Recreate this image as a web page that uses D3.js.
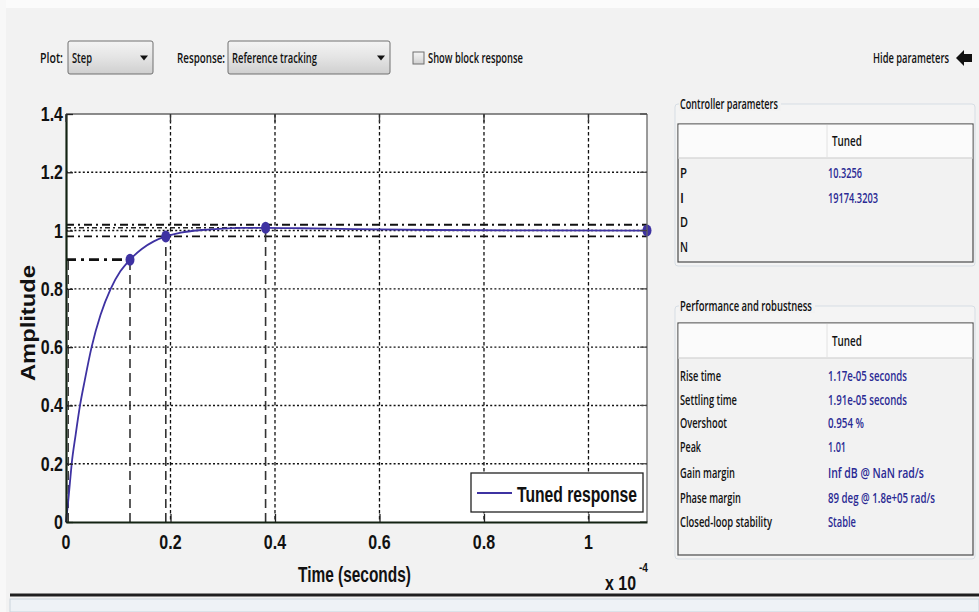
<!DOCTYPE html>
<html><head><meta charset="utf-8">
<script src="https://cdn.jsdelivr.net/npm/d3@7/dist/d3.min.js"></script>
<style>
html,body{margin:0;padding:0;background:#f2f2f2;}
svg{display:block;}
</style></head>
<body>
<svg id="c" width="979" height="612"></svg>
<script>
// ---------------- DATA ----------------
const timeE4    = [0, 0.0015, 0.0044, 0.0075, 0.0109, 0.0185, 0.0268, 0.036, 0.049, 0.066, 0.0855, 0.104, 0.1225, 0.145, 0.168, 0.191, 0.22, 0.26, 0.30, 0.34, 0.382, 0.45, 0.55, 0.70, 0.90, 1.112];
const amplitude = [0, 0.025, 0.075, 0.135, 0.2, 0.3, 0.4, 0.487, 0.6, 0.71, 0.8, 0.86, 0.9, 0.937, 0.963, 0.98, 0.993, 1.002, 1.007, 1.009, 1.0095, 1.008, 1.005, 1.002, 1.0005, 1.0];
const yTicks = [0, 0.2, 0.4, 0.6, 0.8, 1, 1.2, 1.4];
const xTicks = [0, 0.2, 0.4, 0.6, 0.8, 1];
const yGrid = [0.2, 0.4, 0.6, 0.8, 1, 1.2];
const xGrid = [0.2, 0.4, 0.6, 0.8, 1];
const riseStart = 0.0044, riseEnd = 0.1225, riseLevel = 0.9;
const settleTime = 0.191, settleValue = 0.98, settleBand = [0.98, 1.02];
const peakTime = 0.382, peakValue = 1.0095;
const finalTime = 1.112, finalValue = 1.0;
const controllerRows = [["P", "10.3256"], ["I", "19174.3203"], ["D", ""], ["N", ""]];
const perfRows = [
  ["Rise time", "1.17e-05 seconds"],
  ["Settling time", "1.91e-05 seconds"],
  ["Overshoot", "0.954 %"],
  ["Peak", "1.01"],
  ["Gain margin", "Inf dB @ NaN rad/s"],
  ["Phase margin", "89 deg @ 1.8e+05 rad/s"],
  ["Closed-loop stability", "Stable"]
];
const legendLabel = "Tuned response";

// ---------------- DRAW ----------------
const svg = d3.select("#c");
const UI = "'Open Sans','Noto Sans',sans-serif";
const AR = "'Liberation Sans',Arial,sans-serif";
const curveColor = "#3e32a2";
const valColor = "#2a2a94";

// place a text at (x,y) squeezed horizontally to width w (via transform)
function place(parent, x, y, s, w, o={}){
  const t = parent.append("text").attr("x",0).attr("y",0).text(s)
    .attr("font-family",o.ff||UI).attr("font-size",o.fs||13).attr("fill",o.fill||"#111")
    .attr("font-weight",o.fw||"normal");
  const L = t.node().getComputedTextLength();
  const f = (w && L>0) ? w/L : 1;
  const rot = o.rot ? ` rotate(${o.rot})` : "";
  const dx = o.center ? -(L*f)/2 : 0;
  if(o.rot){
    t.attr("transform",`translate(${x},${y})${rot} translate(${dx},0) scale(${f},1)`);
  } else {
    t.attr("transform",`translate(${x+dx},${y}) scale(${f},1)`);
  }
  return t;
}

// page frame
svg.append("rect").attr("x",0).attr("y",0).attr("width",979).attr("height",612).attr("fill","#f2f2f2");
svg.append("rect").attr("x",0).attr("y",0).attr("width",979).attr("height",8).attr("fill","#fbfbfb");
svg.append("rect").attr("x",0).attr("y",0).attr("width",6).attr("height",612).attr("fill","#f8f8f8");

const defs = svg.append("defs");
const g1 = defs.append("linearGradient").attr("id","dd").attr("x1",0).attr("y1",0).attr("x2",0).attr("y2",1);
g1.append("stop").attr("offset","0").attr("stop-color","#f4f4f4");
g1.append("stop").attr("offset","0.5").attr("stop-color","#e4e4e4");
g1.append("stop").attr("offset","1").attr("stop-color","#cfcfcf");

const uiOpt = {fw:600, fs:15};
function dropdown(x,y,w,h,label,lw){
  svg.append("rect").attr("x",x).attr("y",y).attr("width",w).attr("height",h).attr("rx",2)
    .attr("fill","url(#dd)").attr("stroke","#707070");
  place(svg, x+4, y+22, label, lw, uiOpt);
  const ax=x+w-9, ay=y+h/2;
  svg.append("path").attr("d",`M${ax-4},${ay-2}L${ax+4},${ay-2}L${ax},${ay+3}Z`).attr("fill","#111");
}
place(svg,40,63,"Plot:",23,uiOpt);
dropdown(68,41,85,33,"Step",20);
place(svg,177,63,"Response:",48,uiOpt);
dropdown(228,41,162,33,"Reference tracking",85);
svg.append("rect").attr("x",413).attr("y",52).attr("width",11).attr("height",12).attr("fill","url(#dd)").attr("stroke","#6f6f6f");
place(svg,428,63,"Show block response",95,uiOpt);
place(svg,873,63,"Hide parameters",76,uiOpt);
svg.append("path").attr("d","M956,58L964,50L964,54L972,54L972,62L964,62L964,66Z").attr("fill","#111");

// plot
const X0=66, X1=647, Y0=522, Y1=114;
const x = d3.scaleLinear().domain([0, finalTime]).range([X0, X1]);
const y = d3.scaleLinear().domain([0, 1.4]).range([Y0, Y1]);

svg.append("rect").attr("x",X0).attr("y",Y1).attr("width",X1-X0).attr("height",Y0-Y1).attr("fill","#fff");

// grid
svg.append("g").selectAll("line").data(yGrid).join("line")
  .attr("x1",X0).attr("x2",X1).attr("y1",d=>y(d)).attr("y2",d=>y(d))
  .attr("stroke","#111").attr("stroke-width",1.4).attr("stroke-dasharray","2,2.2");
svg.append("g").selectAll("line").data(xGrid).join("line")
  .attr("y1",Y1).attr("y2",Y0).attr("x1",d=>x(d)).attr("x2",d=>x(d))
  .attr("stroke","#111").attr("stroke-width",1.3).attr("stroke-dasharray","3.5,2.5");

// characteristic reference lines
const ref = svg.append("g").attr("fill","none");
ref.append("line").attr("x1",x(riseStart)).attr("x2",x(riseStart)).attr("y1",Y0).attr("y2",y(riseLevel))
  .attr("stroke","#333").attr("stroke-width",1.3).attr("stroke-dasharray","9,5");
ref.append("line").attr("x1",x(riseEnd)).attr("x2",x(riseEnd)).attr("y1",Y0).attr("y2",y(riseLevel))
  .attr("stroke","#333").attr("stroke-width",1.6).attr("stroke-dasharray","9,5");
ref.append("line").attr("x1",X0).attr("x2",x(riseEnd)).attr("y1",y(riseLevel)).attr("y2",y(riseLevel))
  .attr("stroke","#111").attr("stroke-width",2.8).attr("stroke-dasharray","10,5,3,5");
ref.append("line").attr("x1",x(settleTime)).attr("x2",x(settleTime)).attr("y1",Y0).attr("y2",y(settleValue))
  .attr("stroke","#333").attr("stroke-width",1.6).attr("stroke-dasharray","9,5");
ref.selectAll("line.band").data(settleBand).join("line").attr("class","band")
  .attr("x1",X0).attr("x2",X1).attr("y1",d=>y(d)).attr("y2",d=>y(d))
  .attr("stroke","#111").attr("stroke-width",1.8).attr("stroke-dasharray","8,4,2,4");
ref.append("line").attr("x1",x(peakTime)).attr("x2",x(peakTime)).attr("y1",Y0).attr("y2",y(peakValue))
  .attr("stroke","#333").attr("stroke-width",1.6).attr("stroke-dasharray","9,5");
ref.append("line").attr("x1",X0).attr("x2",x(peakTime)).attr("y1",y(peakValue)).attr("y2",y(peakValue))
  .attr("stroke","#222").attr("stroke-width",1.5).attr("stroke-dasharray","5,3,2,3");

// curve
const pts = timeE4.map((t,i)=>[t, amplitude[i]]);
svg.append("path").datum(pts)
  .attr("d", d3.line().x(d=>x(d[0])).y(d=>y(d[1])).curve(d3.curveMonotoneX))
  .attr("fill","none").attr("stroke",curveColor).attr("stroke-width",1.8);

// markers
const marks = [[riseEnd, riseLevel],[settleTime, settleValue],[peakTime, peakValue],[finalTime, finalValue]];
svg.append("g").selectAll("ellipse").data(marks).join("ellipse")
  .attr("cx",d=>x(d[0])).attr("cy",d=>y(d[1])).attr("rx",4.5).attr("ry",6).attr("fill",curveColor);

// axes frame
svg.append("line").attr("x1",X0).attr("x2",X1).attr("y1",Y1).attr("y2",Y1).attr("stroke","#666").attr("stroke-width",1.3);
svg.append("line").attr("x1",X1).attr("x2",X1).attr("y1",Y1).attr("y2",Y0).attr("stroke","#666").attr("stroke-width",1.3);

const tickOpt = {ff:AR, fs:20, fw:"bold", fill:"#111"};
const ax = svg.append("g").attr("transform",`translate(${X0},0)`)
  .call(d3.axisLeft(y).tickValues(yTicks).tickFormat(()=>"").tickSizeInner(-7).tickSizeOuter(0));
ax.select(".domain").attr("stroke","#132313").attr("stroke-width",2.2);
ax.selectAll(".tick line").attr("stroke","#222").attr("stroke-width",1.3);
ax.selectAll(".tick text").remove();
yTicks.forEach(v=>{
  const s = d3.format("~g")(v);
  const t = place(svg, 0, 0, s, null, tickOpt);
  const L = t.node().getComputedTextLength()*0.8;
  t.remove();
  place(svg, 63-L, y(v)+7, s, L, tickOpt);
});
svg.append("g").selectAll("line").data(yTicks).join("line")
  .attr("x1",X1).attr("x2",X1-7).attr("y1",d=>y(d)).attr("y2",d=>y(d)).attr("stroke","#444").attr("stroke-width",1.2);

const bx = svg.append("g").attr("transform",`translate(0,${Y0})`)
  .call(d3.axisBottom(x).tickValues(xTicks).tickFormat(()=>"").tickSizeInner(-8).tickSizeOuter(0));
bx.select(".domain").attr("stroke","#132313").attr("stroke-width",2.2);
bx.selectAll(".tick line").attr("stroke","#222").attr("stroke-width",1.3);
bx.selectAll(".tick text").remove();
xTicks.forEach(v=>{
  const s = d3.format("~g")(v);
  const t = place(svg, 0, 0, s, null, tickOpt);
  const L = t.node().getComputedTextLength()*0.8;
  t.remove();
  place(svg, x(v), 549, s, L, Object.assign({center:true}, tickOpt));
});
svg.append("g").selectAll("line").data(xTicks).join("line")
  .attr("y1",Y1).attr("y2",Y1+8).attr("x1",d=>x(d)).attr("x2",d=>x(d)).attr("stroke","#333").attr("stroke-width",1.3);

// axis labels
place(svg, 35, 323, "Amplitude", 116, {ff:AR, fs:21, fw:"bold", rot:-90, center:true});
place(svg, 298, 582, "Time (seconds)", 113, {ff:AR, fs:22, fw:"bold"});
place(svg, 605, 590, "x 10", 31, {ff:AR, fs:21, fw:"bold"});
place(svg, 639, 572, "-4", 9, {ff:AR, fs:13, fw:"bold"});

// legend
svg.append("rect").attr("x",471).attr("y",473).attr("width",172).attr("height",39).attr("fill","#fff").attr("stroke","#222").attr("stroke-width",1.3);
svg.append("line").attr("x1",477).attr("x2",512).attr("y1",493).attr("y2",493).attr("stroke",curveColor).attr("stroke-width",2.2);
place(svg, 517, 502, legendLabel, 120, {ff:AR, fs:22, fw:"bold"});

// ---------- right panels ----------
function panel(top, bottom, title, titleW, headTop, headBot, rows, rowY, labelW, valW){
  svg.append("rect").attr("x",675).attr("y",top).attr("width",300).attr("height",bottom-top).attr("rx",3)
    .attr("fill","#f4f4f4").attr("stroke","#d6dde4");
  svg.append("rect").attr("x",679).attr("y",top-9).attr("width",titleW+4).attr("height",16).attr("fill","#f2f2f2");
  place(svg, 680, top+5, title, titleW, {fs:14, fw:600});
  svg.append("rect").attr("x",678).attr("y",headTop).attr("width",295).attr("height",bottom-4-headTop)
    .attr("fill","#f2f2f2").attr("stroke","#4a4a4a").attr("stroke-width",1.2);
  svg.append("rect").attr("x",678.6).attr("y",headTop+0.6).attr("width",293.8).attr("height",headBot-headTop)
    .attr("fill","#fbfbfb");
  svg.append("line").attr("x1",678).attr("x2",973).attr("y1",headBot).attr("y2",headBot).attr("stroke","#c8c8c8");
  svg.append("line").attr("x1",827).attr("x2",827).attr("y1",headTop+1).attr("y2",headBot).attr("stroke","#e2e2e2");
  place(svg, 832, (headTop+headBot)/2+5, "Tuned", 30, {fs:15, fw:600});
  rows.forEach((r,i)=>{
    const yy = rowY[i];
    place(svg, 680, yy+5, r[0], labelW[i], {fs:15, fw:600});
    if(r[1]) place(svg, 828, yy+5, r[1], valW[i], {fs:15, fw:600, fill:valColor});
  });
}
panel(104, 266, "Controller parameters", 98, 124, 158, controllerRows,
  [173,198,222,247], [7,4,8,8], [34,50,0,0]);
panel(306, 559, "Performance and robustness", 132, 323, 358, perfRows,
  [376,400,423,447,473,498,522], [41,57,47,21,55,61,92], [79,79,36,18,96,107,28]);

// bottom bar
svg.append("rect").attr("x",10).attr("y",593.5).attr("width",969).attr("height",3).attr("fill","#1e1e1e");
svg.append("rect").attr("x",10).attr("y",599).attr("width",969).attr("height",13).attr("fill","#eef2f6").attr("stroke","#c9d3dc");
</script>
</body></html>
